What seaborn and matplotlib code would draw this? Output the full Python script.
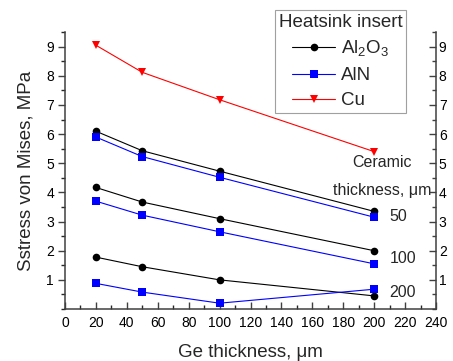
import matplotlib
matplotlib.use("Agg")
import matplotlib.pyplot as plt
import seaborn as sns
import pandas as pd
from matplotlib.ticker import MultipleLocator

sns.set_theme(style="ticks")
plt.rcParams["font.family"] = ["Liberation Sans", "DejaVu Sans"]
plt.rcParams["mathtext.fontset"] = "custom"
plt.rcParams["mathtext.rm"] = "Liberation Sans"

ge = [20, 50, 100, 200]
cu = [9.05, 8.12, 7.18, 5.40]
al2o3 = {50: [6.10, 5.43, 4.73, 3.35], 100: [4.17, 3.67, 3.10, 2.00], 200: [1.78, 1.45, 1.00, 0.45]}
aln = {50: [5.90, 5.23, 4.52, 3.15], 100: [3.70, 3.22, 2.65, 1.55], 200: [0.88, 0.58, 0.20, 0.68]}
ceramic_labels = ["50", "100", "200"]
ceramic_label_y = [3.16, 1.72, 0.55]

rows = []
for x, y in zip(ge, cu):
    rows.append(("Cu", 0, x, y))
for t, vals in al2o3.items():
    for x, y in zip(ge, vals):
        rows.append(("Al2O3", t, x, y))
for t, vals in aln.items():
    for x, y in zip(ge, vals):
        rows.append(("AlN", t, x, y))
df = pd.DataFrame(rows, columns=["material", "ceramic", "ge", "stress"])

palette = {"Al2O3": "black", "AlN": "#0000ff", "Cu": "#ff0000"}
markers = {"Al2O3": "o", "AlN": "s", "Cu": "v"}

fig, ax = plt.subplots(figsize=(4.53, 3.61), dpi=100)
sns.lineplot(data=df, x="ge", y="stress", hue="material", style="material",
             units="ceramic", estimator=None, palette=palette, markers=markers,
             dashes=False, markersize=5.5, markeredgewidth=0, linewidth=0.8,
             hue_order=["Al2O3", "AlN", "Cu"], ax=ax)

spine_col = "#404040"
ax.set_xlim(0, 240)
ax.set_ylim(0, 9.5)
ax.xaxis.set_major_locator(MultipleLocator(20))
ax.xaxis.set_minor_locator(MultipleLocator(10))
ax.set_yticks(range(1, 10))
ax.yaxis.set_minor_locator(MultipleLocator(0.5))
ax.set_xlabel("Ge thickness, μm", fontsize=13.5, labelpad=10)
ax.set_ylabel("Sstress von Mises, MPa", fontsize=13.5, labelpad=8)
ax.tick_params(axis="both", labelsize=10, colors=spine_col, labelcolor="black")
ax.tick_params(axis="x", direction="in", length=5, width=1, pad=5)
ax.tick_params(axis="x", which="minor", direction="in", length=3, width=1)
ax.tick_params(axis="y", direction="out", length=5, width=1, pad=3)
ax.tick_params(axis="y", which="minor", direction="out", length=3, width=1)
ax.spines["top"].set_visible(False)
ax.spines["right"].set_visible(False)
for s in ["left", "bottom"]:
    ax.spines[s].set_color(spine_col)
    ax.spines[s].set_linewidth(1.1)

ax2 = ax.twinx()
ax2.set_ylim(ax.get_ylim())
ax2.set_yticks(range(1, 10))
ax2.yaxis.set_minor_locator(MultipleLocator(0.5))
ax2.tick_params(axis="y", labelsize=10, direction="in", length=5, width=1, pad=2,
                colors=spine_col, labelcolor="black")
ax2.tick_params(axis="y", which="minor", direction="in", length=3, width=1, colors=spine_col)
for s in ["top", "left", "bottom"]:
    ax2.spines[s].set_visible(False)
ax2.spines["right"].set_color(spine_col)
ax2.spines["right"].set_linewidth(1.1)

handles, labels = ax.get_legend_handles_labels()
names = {"Al2O3": "Al$_2$O$_3$", "AlN": "AlN", "Cu": "Cu"}
leg = ax.legend(handles, [names[l] for l in labels], title="Heatsink insert",
                loc="upper left", bbox_to_anchor=(0.566, 1.079), borderaxespad=0,
                fontsize=13.5, title_fontsize=13.5, frameon=True, fancybox=False,
                edgecolor="#888888", handlelength=2.3, handletextpad=0.3,
                borderpad=0.2, labelspacing=0.42)
leg.get_frame().set_linewidth(0.8)
leg.set_zorder(5)

ax.text(205, 5.02, "Ceramic", fontsize=11.5, ha="center", va="center")
ax.text(237, 4.05, "thickness, μm", fontsize=11.5, ha="right", va="center")
for lab, yv in zip(ceramic_labels, ceramic_label_y):
    ax.text(210, yv, lab, fontsize=11.5, ha="left", va="center")

fig.subplots_adjust(left=0.1435, right=0.9625, top=0.911, bottom=0.144)
fig.savefig("out.png", dpi=100)
